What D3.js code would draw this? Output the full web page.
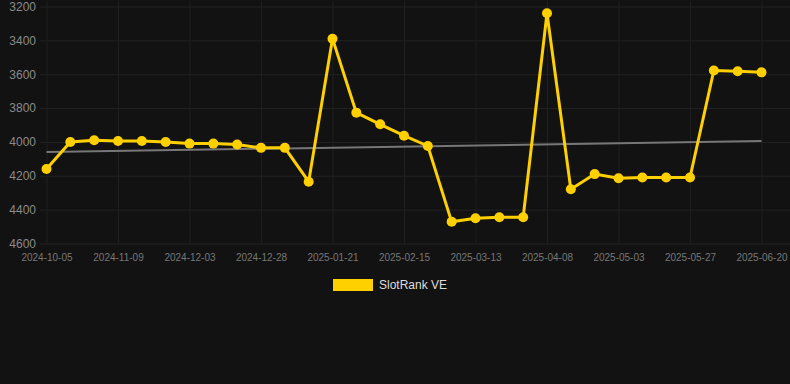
<!DOCTYPE html>
<html>
<head>
<meta charset="utf-8">
<script src="https://cdn.jsdelivr.net/npm/d3@7"></script>
<style>
  html, body { margin: 0; padding: 0; background: #121212; }
  svg { display: block; font-family: Arial, "Liberation Sans", sans-serif; }
</style>
</head>
<body>
<div id="chart"></div>
<script>
// Dates on the category axis (one per point)
var dates = [
    "2024-10-05", "2024-10-17", "2024-10-28", "2024-11-09", "2024-11-17",
    "2024-11-25", "2024-12-03", "2024-12-11", "2024-12-19", "2024-12-28",
    "2025-01-05", "2025-01-13", "2025-01-21", "2025-01-29", "2025-02-07",
    "2025-02-15", "2025-02-23", "2025-03-04", "2025-03-13", "2025-03-22",
    "2025-03-30", "2025-04-08", "2025-04-16", "2025-04-25", "2025-05-03",
    "2025-05-11", "2025-05-19", "2025-05-27", "2025-06-04", "2025-06-12",
    "2025-06-20"
];
var rankValues = [
    4160, 4000, 3990, 3995, 3995, 4000, 4010, 4010, 4015, 4035,
    4035, 4235, 3390, 3827, 3896, 3963, 4024, 4472, 4451, 4445,
    4445, 3240, 4280, 4190, 4215, 4210, 4210, 4210, 3578, 3583,
    3589
];
var trendValues = [4060, 3995]; // first and last point of the trend line
var yTicks = [3200, 3400, 3600, 3800, 4000, 4200, 4400, 4600];
var seriesName = "SlotRank VE";

var width = 790, height = 384;
var lineColor = "#ffd000";

var svg = d3.select("#chart").append("svg")
    .attr("width", width)
    .attr("height", height);

var x = d3.scalePoint().domain(dates).range([46.5, 761.5]);
var y = d3.scaleLinear().domain([3200, 4600]).range([6.5, 243.5]);

// Horizontal gridlines + y labels
var yAxis = d3.axisLeft(y).tickValues(yTicks).tickFormat(d3.format("d"))
    .tickSize(-(width - 40)).tickPadding(4);
svg.append("g")
    .attr("transform", "translate(40,0)")
    .call(yAxis)
    .call(g => g.select(".domain").remove())
    .call(g => g.selectAll("line").attr("stroke", "#232323"))
    .call(g => g.selectAll("text").attr("fill", "#8a8a8a").attr("font-size", 12));

// Vertical gridlines + x labels (every 3rd date)
var xLabels = dates.filter((d, i) => i % 3 === 0);
var xAxis = d3.axisBottom(x).tickValues(xLabels).tickSize(-243).tickPadding(10);
svg.append("g")
    .attr("transform", "translate(0,243.5)")
    .call(xAxis)
    .call(g => g.select(".domain").remove())
    .call(g => g.selectAll("line").attr("stroke", "#1f1f1f"))
    .call(g => g.selectAll("text").attr("fill", "#777").attr("font-size", 10));

// Trend line
svg.append("line")
    .attr("x1", x(dates[0]))
    .attr("y1", y(trendValues[0]))
    .attr("x2", x(dates[dates.length - 1]))
    .attr("y2", y(trendValues[1]))
    .attr("stroke", "#777")
    .attr("stroke-width", 2);

// Series line
var line = d3.line()
    .x((d, i) => x(dates[i]))
    .y(d => y(d));

svg.append("path")
    .datum(rankValues)
    .attr("d", line)
    .attr("fill", "none")
    .attr("stroke", lineColor)
    .attr("stroke-width", 3)
    .attr("stroke-linejoin", "miter");

svg.selectAll("circle.pt")
    .data(rankValues)
    .enter().append("circle")
    .attr("class", "pt")
    .attr("cx", (d, i) => x(dates[i]))
    .attr("cy", d => y(d))
    .attr("r", 5)
    .attr("fill", lineColor);

// Legend
var legend = svg.append("g").attr("transform", "translate(333,279)");
legend.append("rect")
    .attr("width", 40)
    .attr("height", 12)
    .attr("fill", lineColor);
legend.append("text")
    .attr("x", 46)
    .attr("y", 10)
    .attr("fill", "#dddddd")
    .attr("font-size", 12)
    .text(seriesName);
</script>
</body>
</html>
